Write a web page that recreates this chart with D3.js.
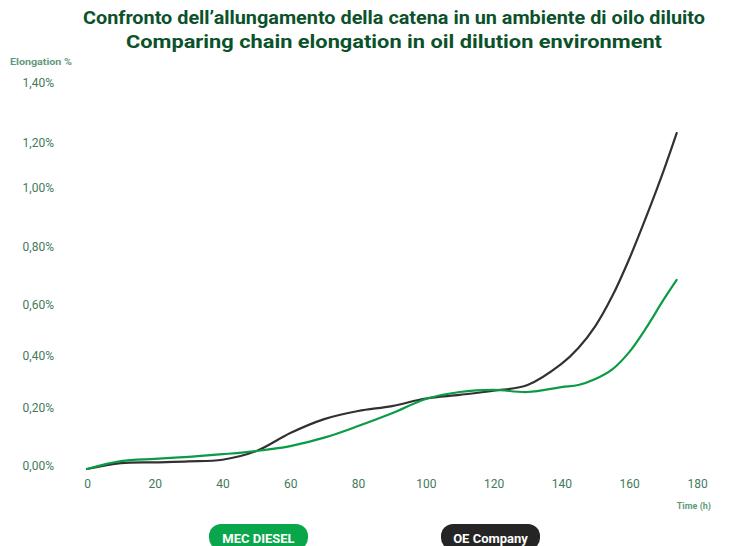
<!DOCTYPE html>
<html lang="it">
<head>
<meta charset="UTF-8">
<title>Chain elongation</title>
<script src="https://cdn.jsdelivr.net/npm/d3@7"></script>
<style>
  body { margin: 0; padding: 0; background: #fff; overflow: hidden; }
  svg { display: block; }
  .tick-label { font-family: "Liberation Sans Narrow", "Roboto", sans-serif; font-size: 12px; fill: #3f7a5c; }
</style>
</head>
<body>
<svg id="chart" width="735" height="546"></svg>
<script>
// data
const hours = [0, 10, 20, 30, 40, 50, 60, 70, 80, 90, 100, 110, 120, 130, 140, 145, 150, 155, 160, 165, 170, 174];
const mecDiesel = [0, 0.027, 0.035, 0.042, 0.051, 0.062, 0.079, 0.108, 0.148, 0.192, 0.246, 0.273, 0.281, 0.273, 0.292, 0.300, 0.323, 0.360, 0.427, 0.522, 0.626, 0.697];
const oeCompany = [0, 0.020, 0.023, 0.026, 0.032, 0.062, 0.124, 0.172, 0.200, 0.219, 0.248, 0.262, 0.278, 0.300, 0.381, 0.443, 0.529, 0.641, 0.769, 0.912, 1.084, 1.243];

const xTicks = [0, 20, 40, 60, 80, 100, 120, 140, 160, 180];
const yTicks = [0, 0.2, 0.4, 0.6, 0.8, 1.0, 1.2, 1.4];
const yTickLabels = ["0,00%", "0,20%", "0,40%", "0,60%", "0,80%", "1,00%", "1,20%", "1,40%"];
// the original axis is not evenly spaced, so the scale is piecewise
const yTickPos = [469, 411, 359, 308, 250, 191, 146, 86];

const seriesNames = ["MEC DIESEL", "OE Company"];
const colors = ["#0a9b45", "#333031"];

const svg = d3.select("#chart");

const x = d3.scaleLinear().domain([0, 180]).range([87, 697]);
const y = d3.scaleLinear().domain(yTicks).range(yTickPos);

// titles
const titles = [
  {text: "Confronto dell\u2019allungamento della catena in un ambiente di oilo diluito", y: 24, len: 622},
  {text: "Comparing chain elongation in oil dilution environment", y: 48, len: 536}
];
svg.selectAll("text.title").data(titles).enter().append("text")
  .attr("class", "title")
  .attr("x", 394)
  .attr("y", d => d.y)
  .attr("text-anchor", "middle")
  .attr("textLength", d => d.len)
  .attr("lengthAdjust", "spacingAndGlyphs")
  .style("font-family", "Roboto, sans-serif")
  .style("font-weight", 700)
  .style("font-size", "17.5px")
  .style("fill", "#0b522b")
  .text(d => d.text);

// y axis labels
svg.append("text")
  .attr("x", 10).attr("y", 65)
  .attr("textLength", 62).attr("lengthAdjust", "spacingAndGlyphs")
  .style("font-family", "Roboto, sans-serif").style("font-weight", 700)
  .style("font-size", "9px").style("fill", "#5f9a7c")
  .text("Elongation %");

svg.selectAll("text.ylab").data(yTicks).enter().append("text")
  .attr("class", "tick-label")
  .attr("x", 54)
  .attr("y", d => y(d) - 3)
  .attr("dy", "0.35em")
  .attr("text-anchor", "end")
  .text((d, i) => yTickLabels[i]);

// x axis labels
const xAxis = d3.axisBottom(x).tickValues(xTicks).tickSize(0).tickPadding(0);
const gx = svg.append("g").attr("transform", "translate(0,479)").call(xAxis);
gx.select(".domain").remove();
gx.selectAll("text")
  .attr("class", "tick-label")
  .attr("fill", null)
  .attr("dy", "0.71em");

svg.append("text")
  .attr("x", 711).attr("y", 509)
  .attr("text-anchor", "end")
  .style("font-family", "Roboto, sans-serif").style("font-weight", 700)
  .style("font-size", "9px").style("fill", "#5f9a7c")
  .text("Time (h)");

// lines
const line = d3.line()
  .x((d, i) => x(hours[i]))
  .y(d => y(d))
  .curve(d3.curveCatmullRom.alpha(0.5));

[oeCompany, mecDiesel].forEach((vals, k) => {
  svg.append("path")
    .datum(vals)
    .attr("fill", "none")
    .attr("stroke", k === 0 ? colors[1] : colors[0])
    .attr("stroke-width", 2.2)
    .attr("stroke-linecap", "round")
    .attr("d", line);
});

// legend pills
const legendX = [209, 441];
const lg = svg.selectAll("g.legend").data(seriesNames).enter().append("g")
  .attr("class", "legend")
  .attr("transform", (d, i) => `translate(${legendX[i]},524)`);
lg.append("rect")
  .attr("width", 99).attr("height", 26)
  .attr("rx", 12).attr("ry", 12)
  .attr("fill", (d, i) => i === 0 ? "#0aa64b" : "#252525");
lg.append("text")
  .attr("x", 49.5).attr("y", 18.5)
  .attr("text-anchor", "middle")
  .style("font-family", "Roboto, sans-serif").style("font-weight", 700)
  .style("font-size", "13px").style("fill", "#fff")
  .text(d => d);
</script>
</body>
</html>
